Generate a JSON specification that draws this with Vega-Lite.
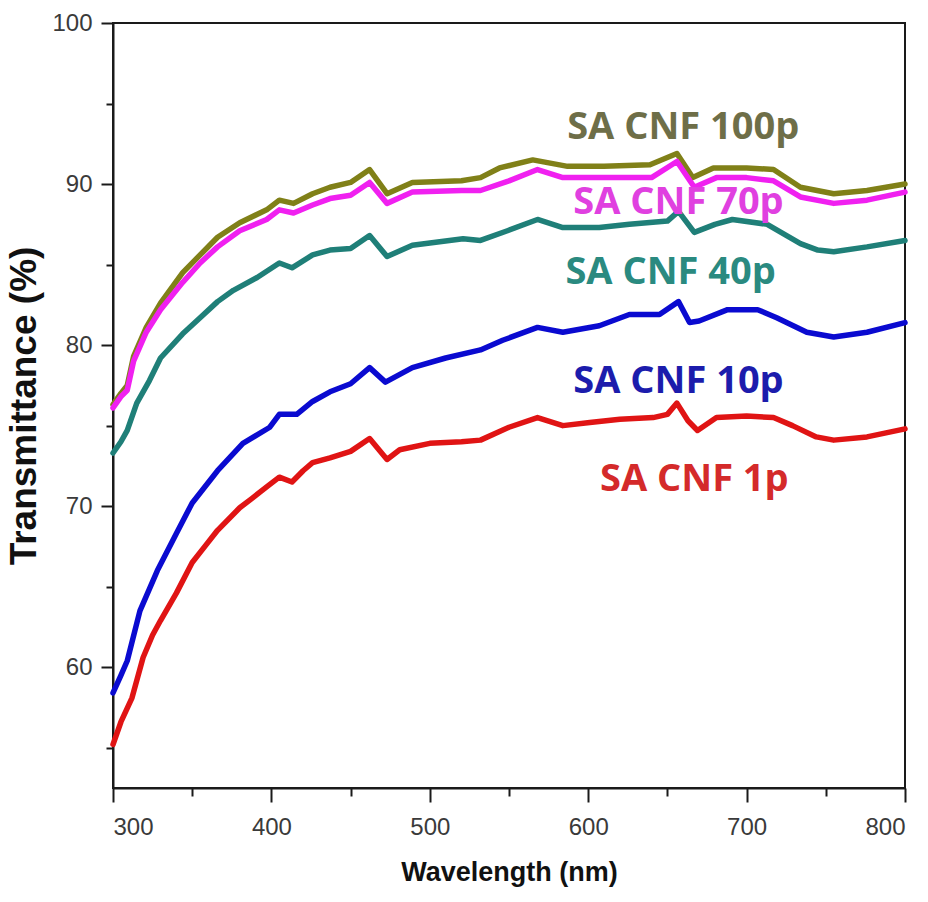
{
  "$schema": "https://vega.github.io/schema/vega-lite/v6.json",
  "width": 792,
  "height": 765,
  "autosize": {"type": "none"},
  "padding": {"left": 113, "top": 23, "right": 23, "bottom": 114},
  "background": "white",
  "config": {
    "view": {"stroke": "#1a1a1a", "strokeWidth": 2},
    "axis": {
      "domainColor": "#1a1a1a",
      "domainWidth": 2,
      "tickColor": "#1a1a1a",
      "tickWidth": 2,
      "grid": false,
      "labelFont": "Liberation Sans",
      "labelFontSize": 24,
      "labelColor": "#3a3a3a",
      "titleColor": "#111111",
      "titleFontWeight": "bold"
    }
  },
  "datasets": {
    "spectra": [
      {"sample": "SA CNF 100p", "wavelength": 300, "transmittance": 76.3},
      {"sample": "SA CNF 100p", "wavelength": 305, "transmittance": 77.0},
      {"sample": "SA CNF 100p", "wavelength": 309, "transmittance": 77.5},
      {"sample": "SA CNF 100p", "wavelength": 313, "transmittance": 79.3},
      {"sample": "SA CNF 100p", "wavelength": 321, "transmittance": 81.1},
      {"sample": "SA CNF 100p", "wavelength": 330, "transmittance": 82.6},
      {"sample": "SA CNF 100p", "wavelength": 344, "transmittance": 84.5},
      {"sample": "SA CNF 100p", "wavelength": 355, "transmittance": 85.6},
      {"sample": "SA CNF 100p", "wavelength": 366, "transmittance": 86.7},
      {"sample": "SA CNF 100p", "wavelength": 380, "transmittance": 87.6},
      {"sample": "SA CNF 100p", "wavelength": 397, "transmittance": 88.4},
      {"sample": "SA CNF 100p", "wavelength": 405, "transmittance": 89.0},
      {"sample": "SA CNF 100p", "wavelength": 414, "transmittance": 88.8},
      {"sample": "SA CNF 100p", "wavelength": 426, "transmittance": 89.4},
      {"sample": "SA CNF 100p", "wavelength": 437, "transmittance": 89.8},
      {"sample": "SA CNF 100p", "wavelength": 450, "transmittance": 90.1},
      {"sample": "SA CNF 100p", "wavelength": 462, "transmittance": 90.9},
      {"sample": "SA CNF 100p", "wavelength": 473, "transmittance": 89.4},
      {"sample": "SA CNF 100p", "wavelength": 489, "transmittance": 90.1},
      {"sample": "SA CNF 100p", "wavelength": 520, "transmittance": 90.2},
      {"sample": "SA CNF 100p", "wavelength": 532, "transmittance": 90.4},
      {"sample": "SA CNF 100p", "wavelength": 544, "transmittance": 91.0},
      {"sample": "SA CNF 100p", "wavelength": 565, "transmittance": 91.5},
      {"sample": "SA CNF 100p", "wavelength": 587, "transmittance": 91.1},
      {"sample": "SA CNF 100p", "wavelength": 610, "transmittance": 91.1},
      {"sample": "SA CNF 100p", "wavelength": 639, "transmittance": 91.2},
      {"sample": "SA CNF 100p", "wavelength": 656, "transmittance": 91.9},
      {"sample": "SA CNF 100p", "wavelength": 666, "transmittance": 90.4},
      {"sample": "SA CNF 100p", "wavelength": 679, "transmittance": 91.0},
      {"sample": "SA CNF 100p", "wavelength": 700, "transmittance": 91.0},
      {"sample": "SA CNF 100p", "wavelength": 717, "transmittance": 90.9},
      {"sample": "SA CNF 100p", "wavelength": 734, "transmittance": 89.8},
      {"sample": "SA CNF 100p", "wavelength": 755, "transmittance": 89.4},
      {"sample": "SA CNF 100p", "wavelength": 776, "transmittance": 89.6},
      {"sample": "SA CNF 100p", "wavelength": 800, "transmittance": 90.0},

      {"sample": "SA CNF 70p", "wavelength": 300, "transmittance": 76.1},
      {"sample": "SA CNF 70p", "wavelength": 305, "transmittance": 76.8},
      {"sample": "SA CNF 70p", "wavelength": 309, "transmittance": 77.2},
      {"sample": "SA CNF 70p", "wavelength": 313, "transmittance": 79.0},
      {"sample": "SA CNF 70p", "wavelength": 321, "transmittance": 80.8},
      {"sample": "SA CNF 70p", "wavelength": 330, "transmittance": 82.2},
      {"sample": "SA CNF 70p", "wavelength": 344, "transmittance": 83.9},
      {"sample": "SA CNF 70p", "wavelength": 355, "transmittance": 85.1},
      {"sample": "SA CNF 70p", "wavelength": 366, "transmittance": 86.1},
      {"sample": "SA CNF 70p", "wavelength": 380, "transmittance": 87.1},
      {"sample": "SA CNF 70p", "wavelength": 397, "transmittance": 87.8},
      {"sample": "SA CNF 70p", "wavelength": 405, "transmittance": 88.4},
      {"sample": "SA CNF 70p", "wavelength": 414, "transmittance": 88.2},
      {"sample": "SA CNF 70p", "wavelength": 426, "transmittance": 88.7},
      {"sample": "SA CNF 70p", "wavelength": 437, "transmittance": 89.1},
      {"sample": "SA CNF 70p", "wavelength": 450, "transmittance": 89.3},
      {"sample": "SA CNF 70p", "wavelength": 462, "transmittance": 90.1},
      {"sample": "SA CNF 70p", "wavelength": 473, "transmittance": 88.8},
      {"sample": "SA CNF 70p", "wavelength": 489, "transmittance": 89.5},
      {"sample": "SA CNF 70p", "wavelength": 520, "transmittance": 89.6},
      {"sample": "SA CNF 70p", "wavelength": 532, "transmittance": 89.6},
      {"sample": "SA CNF 70p", "wavelength": 550, "transmittance": 90.2},
      {"sample": "SA CNF 70p", "wavelength": 568, "transmittance": 90.9},
      {"sample": "SA CNF 70p", "wavelength": 584, "transmittance": 90.4},
      {"sample": "SA CNF 70p", "wavelength": 610, "transmittance": 90.4},
      {"sample": "SA CNF 70p", "wavelength": 640, "transmittance": 90.4},
      {"sample": "SA CNF 70p", "wavelength": 656, "transmittance": 91.4},
      {"sample": "SA CNF 70p", "wavelength": 667, "transmittance": 89.8},
      {"sample": "SA CNF 70p", "wavelength": 681, "transmittance": 90.4},
      {"sample": "SA CNF 70p", "wavelength": 700, "transmittance": 90.4},
      {"sample": "SA CNF 70p", "wavelength": 717, "transmittance": 90.2},
      {"sample": "SA CNF 70p", "wavelength": 734, "transmittance": 89.2},
      {"sample": "SA CNF 70p", "wavelength": 755, "transmittance": 88.8},
      {"sample": "SA CNF 70p", "wavelength": 776, "transmittance": 89.0},
      {"sample": "SA CNF 70p", "wavelength": 800, "transmittance": 89.5},

      {"sample": "SA CNF 40p", "wavelength": 300, "transmittance": 73.3},
      {"sample": "SA CNF 40p", "wavelength": 305, "transmittance": 74.0},
      {"sample": "SA CNF 40p", "wavelength": 309, "transmittance": 74.7},
      {"sample": "SA CNF 40p", "wavelength": 315, "transmittance": 76.4},
      {"sample": "SA CNF 40p", "wavelength": 323, "transmittance": 77.8},
      {"sample": "SA CNF 40p", "wavelength": 330, "transmittance": 79.2},
      {"sample": "SA CNF 40p", "wavelength": 344, "transmittance": 80.7},
      {"sample": "SA CNF 40p", "wavelength": 355, "transmittance": 81.7},
      {"sample": "SA CNF 40p", "wavelength": 366, "transmittance": 82.7},
      {"sample": "SA CNF 40p", "wavelength": 376, "transmittance": 83.4},
      {"sample": "SA CNF 40p", "wavelength": 391, "transmittance": 84.2},
      {"sample": "SA CNF 40p", "wavelength": 405, "transmittance": 85.1},
      {"sample": "SA CNF 40p", "wavelength": 413, "transmittance": 84.8},
      {"sample": "SA CNF 40p", "wavelength": 426, "transmittance": 85.6},
      {"sample": "SA CNF 40p", "wavelength": 437, "transmittance": 85.9},
      {"sample": "SA CNF 40p", "wavelength": 450, "transmittance": 86.0},
      {"sample": "SA CNF 40p", "wavelength": 462, "transmittance": 86.8},
      {"sample": "SA CNF 40p", "wavelength": 473, "transmittance": 85.5},
      {"sample": "SA CNF 40p", "wavelength": 489, "transmittance": 86.2},
      {"sample": "SA CNF 40p", "wavelength": 521, "transmittance": 86.6},
      {"sample": "SA CNF 40p", "wavelength": 532, "transmittance": 86.5},
      {"sample": "SA CNF 40p", "wavelength": 549, "transmittance": 87.1},
      {"sample": "SA CNF 40p", "wavelength": 568, "transmittance": 87.8},
      {"sample": "SA CNF 40p", "wavelength": 584, "transmittance": 87.3},
      {"sample": "SA CNF 40p", "wavelength": 607, "transmittance": 87.3},
      {"sample": "SA CNF 40p", "wavelength": 626, "transmittance": 87.5},
      {"sample": "SA CNF 40p", "wavelength": 650, "transmittance": 87.7},
      {"sample": "SA CNF 40p", "wavelength": 657, "transmittance": 88.3},
      {"sample": "SA CNF 40p", "wavelength": 667, "transmittance": 87.0},
      {"sample": "SA CNF 40p", "wavelength": 680, "transmittance": 87.5},
      {"sample": "SA CNF 40p", "wavelength": 691, "transmittance": 87.8},
      {"sample": "SA CNF 40p", "wavelength": 713, "transmittance": 87.5},
      {"sample": "SA CNF 40p", "wavelength": 734, "transmittance": 86.3},
      {"sample": "SA CNF 40p", "wavelength": 745, "transmittance": 85.9},
      {"sample": "SA CNF 40p", "wavelength": 755, "transmittance": 85.8},
      {"sample": "SA CNF 40p", "wavelength": 776, "transmittance": 86.1},
      {"sample": "SA CNF 40p", "wavelength": 800, "transmittance": 86.5},

      {"sample": "SA CNF 10p", "wavelength": 300, "transmittance": 58.4},
      {"sample": "SA CNF 10p", "wavelength": 305, "transmittance": 59.5},
      {"sample": "SA CNF 10p", "wavelength": 309, "transmittance": 60.4},
      {"sample": "SA CNF 10p", "wavelength": 317, "transmittance": 63.5},
      {"sample": "SA CNF 10p", "wavelength": 328, "transmittance": 66.0},
      {"sample": "SA CNF 10p", "wavelength": 340, "transmittance": 68.3},
      {"sample": "SA CNF 10p", "wavelength": 350, "transmittance": 70.2},
      {"sample": "SA CNF 10p", "wavelength": 366, "transmittance": 72.2},
      {"sample": "SA CNF 10p", "wavelength": 382, "transmittance": 73.9},
      {"sample": "SA CNF 10p", "wavelength": 399, "transmittance": 74.9},
      {"sample": "SA CNF 10p", "wavelength": 405, "transmittance": 75.7},
      {"sample": "SA CNF 10p", "wavelength": 416, "transmittance": 75.7},
      {"sample": "SA CNF 10p", "wavelength": 426, "transmittance": 76.5},
      {"sample": "SA CNF 10p", "wavelength": 437, "transmittance": 77.1},
      {"sample": "SA CNF 10p", "wavelength": 450, "transmittance": 77.6},
      {"sample": "SA CNF 10p", "wavelength": 462, "transmittance": 78.6},
      {"sample": "SA CNF 10p", "wavelength": 472, "transmittance": 77.7},
      {"sample": "SA CNF 10p", "wavelength": 489, "transmittance": 78.6},
      {"sample": "SA CNF 10p", "wavelength": 510, "transmittance": 79.2},
      {"sample": "SA CNF 10p", "wavelength": 532, "transmittance": 79.7},
      {"sample": "SA CNF 10p", "wavelength": 546, "transmittance": 80.3},
      {"sample": "SA CNF 10p", "wavelength": 568, "transmittance": 81.1},
      {"sample": "SA CNF 10p", "wavelength": 584, "transmittance": 80.8},
      {"sample": "SA CNF 10p", "wavelength": 607, "transmittance": 81.2},
      {"sample": "SA CNF 10p", "wavelength": 626, "transmittance": 81.9},
      {"sample": "SA CNF 10p", "wavelength": 645, "transmittance": 81.9},
      {"sample": "SA CNF 10p", "wavelength": 657, "transmittance": 82.7},
      {"sample": "SA CNF 10p", "wavelength": 664, "transmittance": 81.4},
      {"sample": "SA CNF 10p", "wavelength": 670, "transmittance": 81.5},
      {"sample": "SA CNF 10p", "wavelength": 688, "transmittance": 82.2},
      {"sample": "SA CNF 10p", "wavelength": 707, "transmittance": 82.2},
      {"sample": "SA CNF 10p", "wavelength": 719, "transmittance": 81.7},
      {"sample": "SA CNF 10p", "wavelength": 738, "transmittance": 80.8},
      {"sample": "SA CNF 10p", "wavelength": 755, "transmittance": 80.5},
      {"sample": "SA CNF 10p", "wavelength": 776, "transmittance": 80.8},
      {"sample": "SA CNF 10p", "wavelength": 800, "transmittance": 81.4},

      {"sample": "SA CNF 1p", "wavelength": 300, "transmittance": 55.2},
      {"sample": "SA CNF 1p", "wavelength": 305, "transmittance": 56.6},
      {"sample": "SA CNF 1p", "wavelength": 312, "transmittance": 58.1},
      {"sample": "SA CNF 1p", "wavelength": 319, "transmittance": 60.6},
      {"sample": "SA CNF 1p", "wavelength": 325, "transmittance": 62.0},
      {"sample": "SA CNF 1p", "wavelength": 330, "transmittance": 62.9},
      {"sample": "SA CNF 1p", "wavelength": 340, "transmittance": 64.6},
      {"sample": "SA CNF 1p", "wavelength": 350, "transmittance": 66.5},
      {"sample": "SA CNF 1p", "wavelength": 358, "transmittance": 67.5},
      {"sample": "SA CNF 1p", "wavelength": 366, "transmittance": 68.5},
      {"sample": "SA CNF 1p", "wavelength": 380, "transmittance": 69.9},
      {"sample": "SA CNF 1p", "wavelength": 388, "transmittance": 70.5},
      {"sample": "SA CNF 1p", "wavelength": 397, "transmittance": 71.2},
      {"sample": "SA CNF 1p", "wavelength": 405, "transmittance": 71.8},
      {"sample": "SA CNF 1p", "wavelength": 413, "transmittance": 71.5},
      {"sample": "SA CNF 1p", "wavelength": 420, "transmittance": 72.2},
      {"sample": "SA CNF 1p", "wavelength": 426, "transmittance": 72.7},
      {"sample": "SA CNF 1p", "wavelength": 437, "transmittance": 73.0},
      {"sample": "SA CNF 1p", "wavelength": 450, "transmittance": 73.4},
      {"sample": "SA CNF 1p", "wavelength": 462, "transmittance": 74.2},
      {"sample": "SA CNF 1p", "wavelength": 473, "transmittance": 72.9},
      {"sample": "SA CNF 1p", "wavelength": 481, "transmittance": 73.5},
      {"sample": "SA CNF 1p", "wavelength": 500, "transmittance": 73.9},
      {"sample": "SA CNF 1p", "wavelength": 520, "transmittance": 74.0},
      {"sample": "SA CNF 1p", "wavelength": 532, "transmittance": 74.1},
      {"sample": "SA CNF 1p", "wavelength": 550, "transmittance": 74.9},
      {"sample": "SA CNF 1p", "wavelength": 568, "transmittance": 75.5},
      {"sample": "SA CNF 1p", "wavelength": 584, "transmittance": 75.0},
      {"sample": "SA CNF 1p", "wavelength": 601, "transmittance": 75.2},
      {"sample": "SA CNF 1p", "wavelength": 620, "transmittance": 75.4},
      {"sample": "SA CNF 1p", "wavelength": 641, "transmittance": 75.5},
      {"sample": "SA CNF 1p", "wavelength": 650, "transmittance": 75.7},
      {"sample": "SA CNF 1p", "wavelength": 656, "transmittance": 76.4},
      {"sample": "SA CNF 1p", "wavelength": 663, "transmittance": 75.3},
      {"sample": "SA CNF 1p", "wavelength": 669, "transmittance": 74.7},
      {"sample": "SA CNF 1p", "wavelength": 681, "transmittance": 75.5},
      {"sample": "SA CNF 1p", "wavelength": 700, "transmittance": 75.6},
      {"sample": "SA CNF 1p", "wavelength": 717, "transmittance": 75.5},
      {"sample": "SA CNF 1p", "wavelength": 729, "transmittance": 75.0},
      {"sample": "SA CNF 1p", "wavelength": 744, "transmittance": 74.3},
      {"sample": "SA CNF 1p", "wavelength": 755, "transmittance": 74.1},
      {"sample": "SA CNF 1p", "wavelength": 776, "transmittance": 74.3},
      {"sample": "SA CNF 1p", "wavelength": 800, "transmittance": 74.8}
    ],
    "labels": [
      {"sample": "SA CNF 100p", "wavelength": 660, "transmittance": 93.5},
      {"sample": "SA CNF 70p", "wavelength": 657, "transmittance": 88.8},
      {"sample": "SA CNF 40p", "wavelength": 652, "transmittance": 84.5},
      {"sample": "SA CNF 10p", "wavelength": 657, "transmittance": 77.7},
      {"sample": "SA CNF 1p", "wavelength": 667, "transmittance": 71.6}
    ]
  },
  "layer": [
    {
      "data": {"name": "spectra"},
      "mark": {"type": "line", "strokeWidth": 5.5, "strokeJoin": "round", "strokeCap": "round"},
      "encoding": {
        "x": {
          "field": "wavelength", "type": "quantitative",
          "scale": {"domain": [300, 800], "nice": false, "zero": false},
          "axis": {
            "orient": "bottom", "values": [300, 350, 400, 450, 500, 550, 600, 650, 700, 750, 800],
            "labelExpr": "datum.value % 100 === 0 ? datum.label : ''",
            "tickSize": {"condition": {"test": "datum.value % 100 !== 0", "value": 8}, "value": 14},
            "labelPadding": 13,
            "labelOverlap": false,
            "title": "Wavelength (nm)",
            "titleFont": "Liberation Sans",
            "titleFontSize": 27, "titlePadding": 20
          }
        },
        "y": {
          "field": "transmittance", "type": "quantitative",
          "scale": {"domain": [52.5, 100], "nice": false, "zero": false},
          "axis": {
            "orient": "left", "values": [55, 60, 65, 70, 75, 80, 85, 90, 95, 100],
            "labelExpr": "datum.value % 10 === 0 ? datum.label : ''",
            "tickSize": {"condition": {"test": "datum.value % 10 !== 0", "value": 7}, "value": 12},
            "labelPadding": 9,
            "labelOverlap": false,
            "title": "Transmittance (%)",
            "titleFont": "Liberation Sans",
            "titleFontSize": 37, "titlePadding": 8
          }
        },
        "color": {
          "field": "sample", "type": "nominal",
          "scale": {
            "domain": ["SA CNF 100p", "SA CNF 70p", "SA CNF 40p", "SA CNF 10p", "SA CNF 1p"],
            "range": ["#808018", "#f020f0", "#1f7f78", "#0a0ad0", "#e01414"]
          },
          "legend": null
        }
      }
    },
    {
      "data": {"name": "labels"},
      "mark": {"type": "text", "font": "Open Sans", "fontWeight": "bold", "fontSize": 38, "align": "center", "baseline": "middle"},
      "encoding": {
        "x": {"field": "wavelength", "type": "quantitative", "axis": null},
        "y": {"field": "transmittance", "type": "quantitative", "axis": null},
        "text": {"field": "sample"},
        "color": {
          "field": "sample", "type": "nominal",
          "scale": {
            "domain": ["SA CNF 100p", "SA CNF 70p", "SA CNF 40p", "SA CNF 10p", "SA CNF 1p"],
            "range": ["#6e6e48", "#e040e0", "#2a8a80", "#1c1cac", "#d42a2a"]
          },
          "legend": null
        }
      }
    }
  ],
  "resolve": {"scale": {"color": "independent"}, "axis": {"x": "independent", "y": "independent"}}
}
